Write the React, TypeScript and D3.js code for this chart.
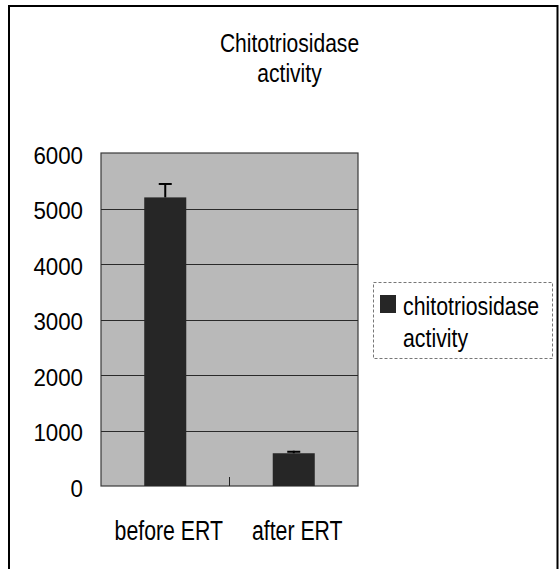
import React from "react";
import * as d3 from "d3";

const categories = ["before ERT", "after ERT"];
const values = [5200, 590];
const errors = [260, 45];
const yTicks = [0, 1000, 2000, 3000, 4000, 5000, 6000];
const titleLines = ["Chitotriosidase", "activity"];
const legendLines = ["chitotriosidase", "activity"];

const W = 560;
const H = 569;
const plot = { left: 101, right: 358, top: 153, bottom: 486 };

const sans = "'Liberation Sans', Arial, sans-serif";

function SText({
  x,
  y,
  sx,
  size,
  anchor = "start",
  children,
}: {
  x: number;
  y: number;
  sx: number;
  size: number;
  anchor?: "start" | "middle" | "end";
  children: React.ReactNode;
}) {
  return (
    <text
      transform={`translate(${x},${y}) scale(${sx},1)`}
      textAnchor={anchor}
      fontFamily={sans}
      fontSize={size}
      fill="#000"
    >
      {children}
    </text>
  );
}

export default function App() {
  const y = d3.scaleLinear().domain([0, 6000]).range([plot.bottom, plot.top]);
  const x = d3
    .scaleBand<string>()
    .domain(categories)
    .range([plot.left, plot.right])
    .paddingInner(0.673)
    .paddingOuter(0.3365);
  const step = x.step();
  const bw = x.bandwidth();

  return (
    <svg
      width={W}
      height={H}
      style={{ position: "absolute", left: 0, top: 0, background: "#fff" }}
    >
      {/* outer chart border */}
      <path d={`M9,${H + 2} V6 H557.5 V${H + 2}`} fill="none" stroke="#000" strokeWidth={2} />

      {/* title */}
      {titleLines.map((t, i) => (
        <SText key={t} x={289.5} y={52 + i * 30} sx={0.81} size={26} anchor="middle">
          {t}
        </SText>
      ))}

      {/* plot area */}
      <rect
        x={plot.left}
        y={plot.top}
        width={plot.right - plot.left}
        height={plot.bottom - plot.top}
        fill="#b9b9b9"
        stroke="#3a3a3a"
        strokeWidth={1.2}
      />

      {/* gridlines */}
      {yTicks
        .filter((t) => t > 0 && t < 6000)
        .map((t) => (
          <line
            key={t}
            x1={plot.left}
            x2={plot.right}
            y1={Math.round(y(t)) + 0.5}
            y2={Math.round(y(t)) + 0.5}
            stroke="#2a2a2a"
            strokeWidth={1}
          />
        ))}

      {/* category tick */}
      {categories.slice(1).map((c) => {
        const xx = (x(c) as number) - (step - bw) / 2;
        return (
          <line
            key={c}
            x1={xx}
            x2={xx}
            y1={plot.bottom - 9}
            y2={plot.bottom}
            stroke="#222"
            strokeWidth={1}
          />
        );
      })}

      {/* bars */}
      {categories.map((c, i) => (
        <rect
          key={c}
          x={x(c)}
          y={y(values[i])}
          width={bw}
          height={plot.bottom - y(values[i])}
          fill="#262626"
        />
      ))}

      {/* error bars (plus direction) */}
      {categories.map((c, i) => {
        const cx = (x(c) as number) + bw / 2;
        const top = y(values[i] + errors[i]);
        const base = y(values[i]);
        return (
          <g key={c} stroke="#000" strokeWidth={2}>
            <line x1={cx} x2={cx} y1={top} y2={base} />
            <line x1={cx - 6.5} x2={cx + 6.5} y1={top + 1} y2={top + 1} />
          </g>
        );
      })}

      {/* y labels */}
      {yTicks.map((t) => (
        <SText key={t} x={83} y={y(t) + 10.5} sx={0.93} size={24} anchor="end">
          {t}
        </SText>
      ))}

      {/* x labels */}
      {categories.map((c) => (
        <SText key={c} x={(x(c) as number) + bw / 2 + 3.5} y={540} sx={0.76} size={28} anchor="middle">
          {c}
        </SText>
      ))}

      {/* legend */}
      <rect
        x={373.5}
        y={282.5}
        width={179}
        height={76}
        fill="#fff"
        stroke="#777"
        strokeWidth={1}
        strokeDasharray="3,2"
      />
      <rect x={380} y={295} width={16} height={18} fill="#262626" />
      {legendLines.map((t, i) => (
        <SText key={t} x={403} y={315 + i * 32} sx={0.82} size={26}>
          {t}
        </SText>
      ))}
    </svg>
  );
}
